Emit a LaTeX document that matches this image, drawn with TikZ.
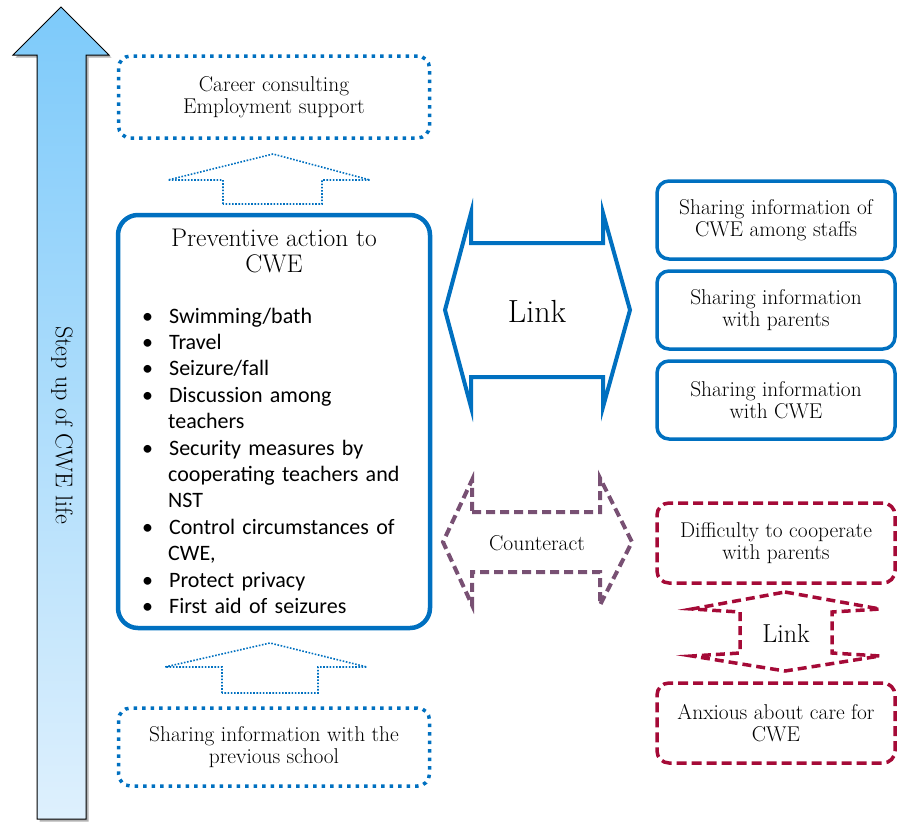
\documentclass[tikz,border=0pt]{standalone}
\usepackage{fontspec}
\newfontfamily\carlito{Carlito}
\definecolor{cblue}{RGB}{0,112,192}
\definecolor{cpurple}{RGB}{120,80,115}
\definecolor{cmaroon}{RGB}{165,10,55}
\definecolor{atop}{RGB}{125,202,250}
\definecolor{abot}{RGB}{222,240,253}
\newcommand\boxfont{\fontsize{21.4}{22.5}\selectfont}
\tikzset{
  dotbox/.style={draw=cblue, line width=3.5pt, dash pattern=on 3.5pt off 5pt, rounded corners=12pt, align=center, font=\boxfont, minimum width=311pt},
  solidbox/.style={draw=cblue, line width=3.5pt, rounded corners=12pt, align=center, font=\boxfont, minimum width=238pt, minimum height=78pt},
  dashbox/.style={draw=cmaroon, line width=3.5pt, dash pattern=on 10pt off 5pt, rounded corners=12pt, align=center, font=\boxfont, minimum width=238pt, minimum height=80pt},
  thinarrow/.style={draw=cblue, line width=1.6pt, dash pattern=on 1.6pt off 1.6pt},
  label/.style={inner sep=0pt, align=center}
}
\begin{document}
\begin{tikzpicture}[x=1pt,y=-1pt]
\useasboundingbox (0,0) rectangle (901,822);
% big arrow
\begin{scope}[shift={(2.5,2.5)}]
\fill[gray!60] (37,819) -- (37,55) -- (13,55) -- (61,7) -- (109,55) -- (86,55) -- (86,819) -- cycle;
\end{scope}
\shade[top color=atop, bottom color=abot, draw=black, line width=1pt] (37,819) -- (37,55) -- (13,55) -- (61,7) -- (109,55) -- (86,55) -- (86,819) -- cycle;
\node[label, rotate=-90, font=\fontsize{24.2}{26}\selectfont] (step) at (62,425) {Step up of CWE life};
% career
\node[dotbox, minimum height=82pt] (career) at (274,97) {Career consulting\\Employment support};
\draw[thinarrow] (223,204) -- (223,180) -- (168,180) -- (273,154) -- (370,180) -- (322,180) -- (322,204) -- cycle;
% main box
\node[draw=cblue, line width=4.5pt, rounded corners=20pt, minimum width=312pt, minimum height=413pt] (main) at (274,421.5) {};
\node[label, font=\fontsize{25.5}{26}\selectfont] (title) at (274,251) {Preventive action to\\CWE};
\node[anchor=base west, inner sep=0pt, text width=270pt, font=\carlito\fontsize{22}{26.4}\selectfont] (list) at (140,296.6) {\raggedright
\begin{list}{\textbullet}{\leftmargin=28pt \labelwidth=10pt \labelsep=16pt \itemsep=0pt \parsep=0pt \topsep=0pt \partopsep=0pt}
\item Swimming/bath
\item Travel
\item Seizure/fall
\item Discussion among\newline teachers
\item Security measures by\newline cooperating teachers and\newline NST
\item Control circumstances of\newline CWE,
\item Protect privacy
\item First aid of seizures
\end{list}};
% link arrow
\draw[cblue, line width=4pt, line join=miter] (471,243) -- (603,243) -- (603,213) -- (630,310) -- (603,407) -- (603,377) -- (471,377) -- (471,407) -- (445,310) -- (471,213) -- cycle;
\node[label, font=\fontsize{32}{34}\selectfont] (link1) at (537,311) {Link};
% counteract
\draw[cpurple, line width=4pt, dash pattern=on 9pt off 5pt] (472,512) -- (600,512) -- (600,478) -- (632,542) -- (600,605) -- (600,572) -- (472,572) -- (472,605) -- (443,542) -- (472,480) -- cycle;
\node[label, font=\fontsize{21.5}{22}\selectfont] (counter) at (537,543) {Counteract};
% right boxes
\node[solidbox] (s1) at (776,220) {Sharing information of\\CWE among staffs};
\node[solidbox] (s2) at (776,310) {Sharing information\\with parents};
\node[solidbox] (s3) at (776,400) {Sharing information\\with CWE};
\node[dashbox] (d1) at (776,543) {Difficulty to cooperate\\with parents};
\node[dashbox] (d2) at (776,723) {Anxious about care for\\CWE};
% small link
\draw[cmaroon, line width=3.5pt, dash pattern=on 9pt off 5pt] (785,592) -- (880,609) -- (832,612) -- (832,653) -- (880,656) -- (785,671) -- (692,656) -- (740,653) -- (740,612) -- (692,609) -- cycle;
\node[label, font=\fontsize{26}{28}\selectfont] (link2) at (786,633) {Link};
% bottom
\draw[thinarrow] (222,693) -- (222,667) -- (165,667) -- (270,643) -- (367,667) -- (318,667) -- (318,693) -- cycle;
\node[dotbox, minimum height=78pt] (prev) at (274,747) {Sharing information with the\\previous school};
\end{tikzpicture}
\end{document}
